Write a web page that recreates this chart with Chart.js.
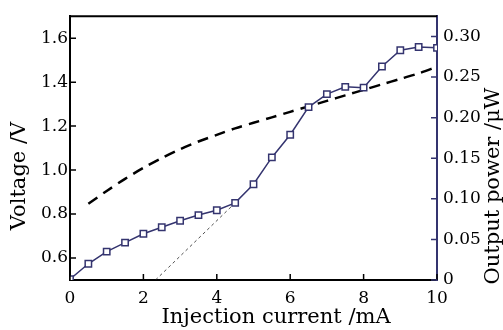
<!DOCTYPE html>
<html>
<head>
<meta charset="utf-8">
<script src="https://cdn.jsdelivr.net/npm/chart.js@4.4.1/dist/chart.umd.min.js"></script>
<style>
  html, body { margin: 0; padding: 0; background: #fff; }
  canvas { display: block; }
</style>
</head>
<body>
<canvas id="grafico" width="503" height="330"></canvas>
<script>
// Dados
const corrente = [0, 0.5, 1, 1.5, 2, 2.5, 3, 3.5, 4, 4.5, 5, 5.5, 6, 6.5, 7, 7.5, 8, 8.5, 9, 9.5, 10];
const potencia = [0.001, 0.020, 0.035, 0.046, 0.057, 0.065, 0.073, 0.080, 0.086, 0.095, 0.118,
  0.151, 0.179, 0.213, 0.229, 0.238, 0.237, 0.263, 0.283, 0.287, 0.286];
const correnteTensao = [0.5, 1, 1.5, 2, 2.5, 3, 3.5, 4, 4.5, 5, 5.5, 6, 6.5, 7, 7.5, 8, 8.5, 9, 9.5, 10];
const tensao = [0.847, 0.905, 0.960, 1.010, 1.055, 1.095, 1.130, 1.160, 1.190, 1.215, 1.240,
  1.265, 1.290, 1.315, 1.340, 1.365, 1.390, 1.415, 1.440, 1.470];
// reta de limiar (ajuste linear)
const limiarX = [2.33, 4.5];
const limiarY = [0, 0.095];

const ticksX = [0, 2, 4, 6, 8, 10];
const ticksTensao = [0.6, 0.8, 1.0, 1.2, 1.4, 1.6];
const ticksPotencia = [0, 0.05, 0.10, 0.15, 0.20, 0.25, 0.30];
const rotulosPotencia = ['0', '0.05', '0.10', '0.15', '0.20', '0.25', '0.30'];

const azul = '#34346f';
const fonte = 'DejaVu Serif';

const pares = (xs, ys) => xs.map((x, i) => ({ x: x, y: ys[i] }));

// Plugin: moldura superior, marcas internas e títulos
const moldura = {
  id: 'moldura',
  afterDraw(chart) {
    const { ctx, chartArea: a, scales } = chart;
    ctx.save();
    ctx.lineWidth = 2;
    ctx.strokeStyle = '#000';
    ctx.beginPath();
    ctx.moveTo(a.left - 1, a.top);
    ctx.lineTo(a.right, a.top);
    ctx.stroke();

    const tl = 6;
    ctx.lineWidth = 1.5;
    ctx.beginPath();
    scales.x.ticks.forEach(t => {
      const px = scales.x.getPixelForValue(t.value);
      ctx.moveTo(px, a.bottom);
      ctx.lineTo(px, a.bottom - tl);
    });
    scales.y.ticks.forEach(t => {
      const py = scales.y.getPixelForValue(t.value);
      ctx.moveTo(a.left, py);
      ctx.lineTo(a.left + tl, py);
    });
    ctx.stroke();
    ctx.strokeStyle = azul;
    ctx.beginPath();
    scales.y1.ticks.forEach(t => {
      const py = scales.y1.getPixelForValue(t.value);
      ctx.moveTo(a.right, py);
      ctx.lineTo(a.right - tl, py);
    });
    ctx.stroke();

    ctx.fillStyle = '#000';
    ctx.font = '21px "' + fonte + '"';
    ctx.textAlign = 'center';
    ctx.textBaseline = 'middle';
    ctx.fillText('Injection current /mA', 276, 318);
    ctx.translate(20, 176);
    ctx.rotate(-Math.PI / 2);
    ctx.fillText('Voltage /V', 0, 0);
    ctx.setTransform(1, 0, 0, 1, 0, 0);
    ctx.translate(494, 186);
    ctx.rotate(-Math.PI / 2);
    ctx.fillText('Output power /\u03bcW', 0, 0);
    ctx.restore();
  }
};

new Chart(document.getElementById('grafico'), {
  type: 'line',
  data: {
    datasets: [
      {
        label: 'Output power',
        data: pares(corrente, potencia),
        yAxisID: 'y1',
        borderColor: azul,
        borderWidth: 1.5,
        pointStyle: 'rect',
        pointRadius: 4.5,
        pointBorderWidth: 1.5,
        pointBorderColor: azul,
        pointBackgroundColor: '#fff',
        clip: 0
      },
      {
        label: 'Voltage',
        data: pares(correnteTensao, tensao),
        yAxisID: 'y',
        borderColor: '#000',
        borderWidth: 2.5,
        borderDash: [11, 7],
        pointRadius: 0,
        tension: 0.3,
        clip: 0
      },
      {
        label: 'Threshold',
        data: pares(limiarX, limiarY),
        yAxisID: 'y1',
        borderColor: '#222',
        borderWidth: 0.8,
        borderDash: [3, 3],
        pointRadius: 0,
        clip: 0
      }
    ]
  },
  options: {
    responsive: false,
    animation: false,
    devicePixelRatio: 1,
    layout: { padding: { top: 7, left: 0, right: 0, bottom: 0 } },
    plugins: { legend: { display: false }, tooltip: { enabled: false } },
    scales: {
      x: {
        type: 'linear',
        min: 0, max: 10,
        afterBuildTicks: s => { s.ticks = ticksX.map(v => ({ value: v })); },
        afterFit: s => { s.height = 50; },
        ticks: { color: '#000', font: { family: fonte, size: 17 }, padding: 8, maxRotation: 0 },
        grid: { drawOnChartArea: false, drawTicks: false },
        border: { color: '#000', width: 2 }
      },
      y: {
        position: 'left',
        min: 0.5, max: 1.7,
        afterBuildTicks: s => { s.ticks = ticksTensao.map(v => ({ value: v })); },
        afterFit: s => { s.width = 70; },
        ticks: { color: '#000', font: { family: fonte, size: 17 }, padding: 2, callback: v => v.toFixed(1) },
        grid: { drawOnChartArea: false, drawTicks: false },
        border: { color: '#000', width: 2 }
      },
      y1: {
        position: 'right',
        min: 0, max: 0.325,
        afterBuildTicks: s => { s.ticks = ticksPotencia.map(v => ({ value: v })); },
        afterFit: s => { s.width = 66; },
        ticks: { color: '#000', font: { family: fonte, size: 17 }, padding: 6,
          callback: (v, i) => rotulosPotencia[i] },
        grid: { drawOnChartArea: false, drawTicks: false },
        border: { color: azul, width: 2 }
      }
    }
  },
  plugins: [moldura]
});
</script>
</body>
</html>
